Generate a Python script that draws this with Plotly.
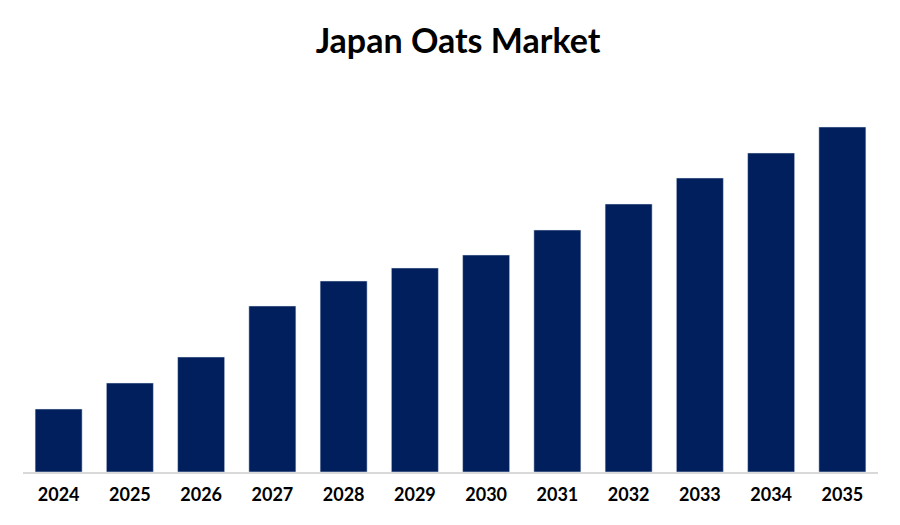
import plotly.graph_objects as go

years = ["2024", "2025", "2026", "2027", "2028", "2029",
         "2030", "2031", "2032", "2033", "2034", "2035"]
values = [63, 89, 115, 166, 191, 204, 217, 242, 268, 294, 319, 345]

fig = go.Figure(go.Bar(
    x=years,
    y=values,
    marker_color="#001f5c",
    width=0.66,
))

fig.update_layout(
    width=900,
    height=525,
    title=dict(text="<b>Japan Oats Market</b>", x=0.5, y=0.96, xanchor="center",
               font=dict(family="Lato", size=34, color="black")),
    margin=dict(l=15, r=30, t=100, b=61),
    plot_bgcolor="white",
    paper_bgcolor="white",
    showlegend=False,
    xaxis=dict(
        showline=True, linecolor="#d9d9d9", linewidth=1.5,
        tickfont=dict(family="Lato", size=18, color="black", weight="bold"),
        ticks="", ticklabelstandoff=6,
    ),
    yaxis=dict(visible=False, range=[0, 364]),
)

fig.write_html("out.html")
